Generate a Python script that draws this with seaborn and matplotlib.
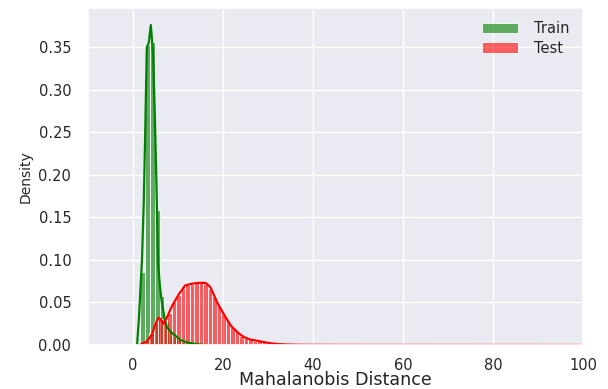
import matplotlib
matplotlib.use("Agg")
import matplotlib.pyplot as plt
import seaborn as sns

# Values (density units)
train_edges = [1.56, 2.68, 3.80, 4.92, 5.92, 6.93, 7.93, 8.94, 9.94, 10.95, 11.96, 12.96, 13.97]
train_heights = [0.086, 0.352, 0.356, 0.159, 0.058, 0.028, 0.016, 0.009, 0.006, 0.004, 0.002, 0.001]

test_start, test_width = 1.6, 1.0
test_heights = [0.002, 0.006, 0.014, 0.027, 0.031, 0.028, 0.038, 0.050, 0.059, 0.067,
                0.071, 0.072, 0.073, 0.073, 0.072, 0.066, 0.056, 0.046, 0.037, 0.028,
                0.021, 0.016, 0.011, 0.0085, 0.0065, 0.005, 0.0042, 0.0035, 0.0027, 0.002,
                0.0014, 0.001, 0.0007, 0.0005, 0.0004, 0.0003, 0.0002, 0.0002, 0.0001, 0.0001]

train_kde_x = [0.9, 1.3, 1.7, 2.0, 2.4, 2.7, 3.07, 3.5, 3.96, 4.2, 4.47, 4.8, 5.14, 5.4,
               5.59, 6.0, 6.41, 7.0, 7.53, 8.5, 9.4, 10.5, 12.0, 14.0, 16.0]
train_kde_y = [0.0, 0.03, 0.07, 0.10, 0.17, 0.246, 0.35, 0.355, 0.376, 0.36, 0.34, 0.28,
               0.206, 0.14, 0.095, 0.068, 0.05, 0.032, 0.021, 0.015, 0.011, 0.006, 0.003,
               0.001, 0.0]

test_kde_x = [1.5, 3.0, 4.2, 5.0, 5.66, 6.2, 6.8, 7.6, 8.6, 10.1, 11.6, 13.1, 14.5, 16.1,
              17.2, 18.7, 20.2, 21.7, 23.2, 24.6, 26.0, 27.6, 29.0, 30.6, 32.5, 34.4, 38.0,
              45.0, 60.0, 80.0, 105.0]
test_kde_y = [0.0, 0.004, 0.012, 0.025, 0.032, 0.030, 0.025, 0.033, 0.045, 0.059, 0.070,
              0.072, 0.073, 0.073, 0.068, 0.050, 0.036, 0.023, 0.015, 0.0094, 0.0065, 0.005,
              0.0035, 0.002, 0.001, 0.0005, 0.0002, 0.0001, 0.00005, 0.00002, 0.0]

sns.set_theme(style="darkgrid")
plt.rcParams["font.family"] = ["DejaVu Sans"]

fig, ax = plt.subplots(figsize=(6.08, 3.89), dpi=100)
fig.subplots_adjust(left=88 / 608, right=583 / 608, bottom=1 - 345 / 389, top=1 - 8 / 389)

train_centers = [(a + b) / 2 for a, b in zip(train_edges[:-1], train_edges[1:])]
test_edges = [test_start + i * test_width for i in range(len(test_heights) + 1)]
test_centers = [(a + b) / 2 for a, b in zip(test_edges[:-1], test_edges[1:])]

sns.histplot(x=train_centers, weights=train_heights, bins=train_edges, stat="count",
             color="green", alpha=0.6, edgecolor="white", linewidth=0.6, label="Train", ax=ax)
sns.lineplot(x=train_kde_x, y=train_kde_y, color="green", linewidth=1.6, ax=ax)
sns.histplot(x=test_centers, weights=test_heights, bins=test_edges, stat="count",
             color="red", alpha=0.6, edgecolor="white", linewidth=0.6, label="Test", ax=ax)
sns.lineplot(x=test_kde_x, y=test_kde_y, color="red", linewidth=1.6, ax=ax)

ax.set_xlim(-10, 100)
ax.set_ylim(0, 0.396)
ax.set_xticks([0, 20, 40, 60, 80, 100])
ax.set_yticks([0.0, 0.05, 0.10, 0.15, 0.20, 0.25, 0.30, 0.35])
ax.yaxis.set_major_formatter(matplotlib.ticker.FormatStrFormatter("%.2f"))
ax.tick_params(labelsize=10.5, colors="#262626")
ax.tick_params(axis="x", pad=3)
ax.tick_params(axis="y", pad=6)
ax.set_xlabel("Mahalanobis Distance", fontsize=12.6, labelpad=-1)
ax.set_ylabel("Density", fontsize=10)
ax.legend(loc="upper right", frameon=False, fontsize=10.5, handlelength=2.5,
          labelspacing=0.3, handletextpad=1.1)

fig.savefig("out.png", dpi=100)
